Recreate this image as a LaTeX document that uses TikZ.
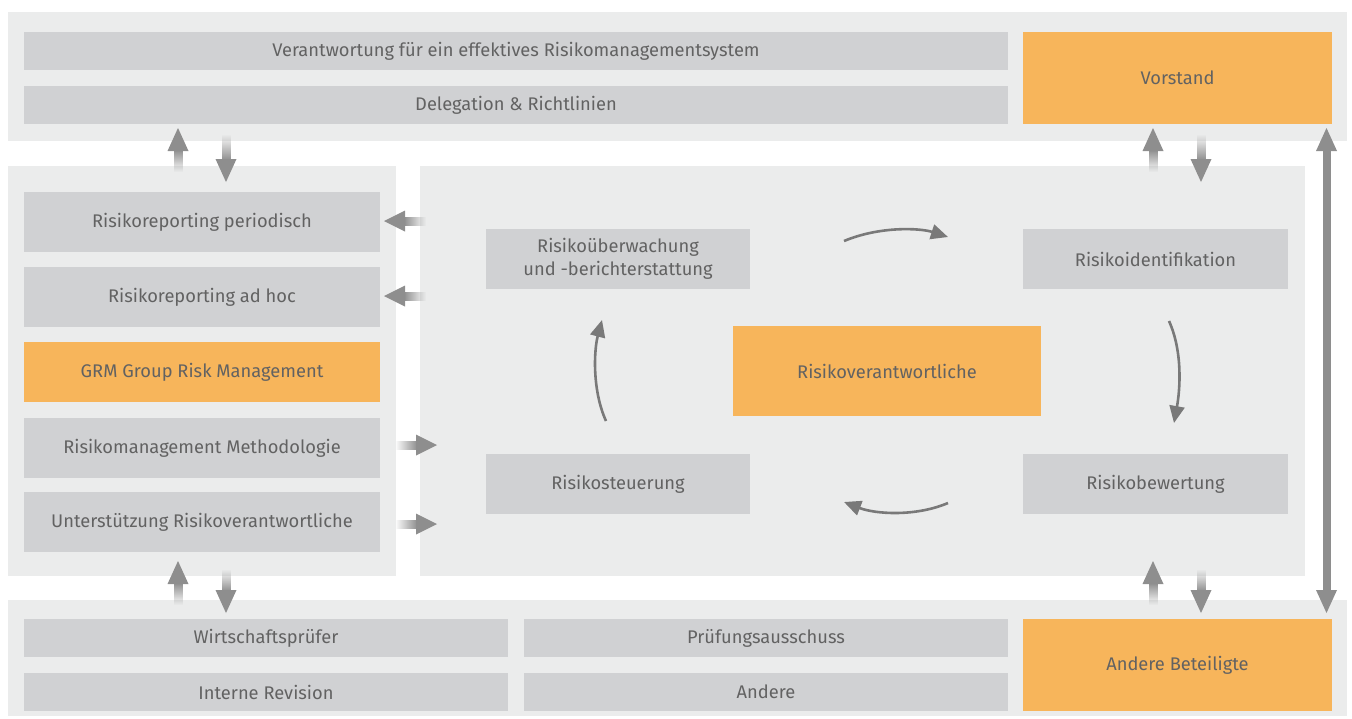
\documentclass[tikz,border=0pt]{standalone}
\usepackage{fontspec}
\setmainfont{Fira Sans}
\usetikzlibrary{arrows.meta,fadings}
\definecolor{panel}{HTML}{EBECEC}
\definecolor{kasten}{HTML}{D0D1D3}
\definecolor{orange}{HTML}{F7B55B}
\definecolor{pfeil}{HTML}{8E8E8E}
\definecolor{schrift}{HTML}{626262}
\tikzfading[name=fadeup,top color=transparent!0,bottom color=transparent!100]
\tikzfading[name=fadedown,top color=transparent!100,bottom color=transparent!0]
\tikzfading[name=fadeleft,left color=transparent!0,right color=transparent!100]
\tikzfading[name=faderight,left color=transparent!100,right color=transparent!0]
% block arrows with a fading tail: x, tip, tail
\newcommand\pfeilauf[3]{\fill[pfeil,path fading=fadeup](#1-4.5,#2+22)rectangle(#1+4.5,#3);
  \fill[pfeil](#1,#2)--(#1+10.5,#2+23)--(#1-10.5,#2+23)--cycle;}
\newcommand\pfeilab[3]{\fill[pfeil,path fading=fadedown](#1-4.5,#2-22)rectangle(#1+4.5,#3);
  \fill[pfeil](#1,#2)--(#1+10.5,#2-23)--(#1-10.5,#2-23)--cycle;}
\newcommand\pfeillinks[3]{\fill[pfeil,path fading=fadeleft](#2+20,#1-4.5)rectangle(#3,#1+4.5);
  \fill[pfeil](#2,#1)--(#2+21,#1-10.5)--(#2+21,#1+10.5)--cycle;}
\newcommand\pfeilrechts[3]{\fill[pfeil,path fading=faderight](#2-20,#1-4.5)rectangle(#3,#1+4.5);
  \fill[pfeil](#2,#1)--(#2-21,#1-10.5)--(#2-21,#1+10.5)--cycle;}
\begin{document}
\begin{tikzpicture}[x=1pt,y=-1pt,font=\fontsize{18.3}{22.5}\selectfont,
    box/.style={fill=kasten,text=schrift,inner sep=0pt,outer sep=0pt,align=center},
    obox/.style={box,fill=orange},
    kreis/.style={draw=pfeil!85!black,line width=2.6pt,-{Triangle[length=17pt,width=15pt]}}]
  \useasboundingbox(0,0)rectangle(1352,718);
  % panels
  \fill[panel](8,12)rectangle(1347,141);
  \fill[panel](8,166)rectangle(396,576);
  \fill[panel](420,166)rectangle(1305,576);
  \fill[panel](8,600)rectangle(1347,716);
  % top
  \node[box,minimum width=984,minimum height=38](verant)at(516,51){Verantwortung für ein effektives Risikomanagementsystem};
  \node[box,minimum width=984,minimum height=38](deleg)at(516,105){Delegation \& Richtlinien};
  \node[obox,minimum width=309,minimum height=92](vorstand)at(1177.5,78){Vorstand};
  % left
  \node[box,minimum width=356,minimum height=60](periodisch)at(202,222){Risikoreporting periodisch};
  \node[box,minimum width=356,minimum height=60](adhoc)at(202,297){Risikoreporting ad hoc};
  \node[obox,minimum width=356,minimum height=60](grm)at(202,372){GRM Group Risk Management};
  \node[box,minimum width=356,minimum height=60](method)at(202,448){Risikomanagement Methodologie};
  \node[box,minimum width=356,minimum height=60](unterst)at(202,522){Unterstützung Risikoverantwortliche};
  % cycle
  \node[box,minimum width=264,minimum height=60](ueberw)at(618,259){Risikoüberwachung\\und -berichterstattung};
  \node[box,minimum width=265,minimum height=60](ident)at(1155.5,259){Risikoidentifikation};
  \node[obox,minimum width=308,minimum height=90](verantw)at(887,371){Risikoverantwortliche};
  \node[box,minimum width=264,minimum height=60](steuer)at(618,484){Risikosteuerung};
  \node[box,minimum width=265,minimum height=60](bewert)at(1155.5,484){Risikobewertung};
  % bottom
  \node[box,minimum width=484,minimum height=38](wp)at(266,638){Wirtschaftsprüfer};
  \node[box,minimum width=484,minimum height=38](revision)at(266,692){Interne Revision};
  \node[box,minimum width=484,minimum height=38](ausschuss)at(766,638){Prüfungsausschuss};
  \node[box,minimum width=484,minimum height=38](andere)at(766,692){Andere};
  \node[obox,minimum width=309,minimum height=92](beteiligte)at(1177.5,665){Andere Beteiligte};
  % cycle arrows
  \coordinate(o1)at(844,241);\coordinate(o2)at(948,237);
  \coordinate(r1)at(1169,321);\coordinate(r2)at(1174,423);
  \coordinate(u1)at(948,503);\coordinate(u2)at(844,502);
  \coordinate(l1)at(606,421);\coordinate(l2)at(602,320);
  \draw[kreis](o1)..controls(880,226)and(920,228)..(o2);
  \draw[kreis](r1)..controls(1183,352)and(1180,390)..(r2);
  \draw[kreis](u1)..controls(915,517)and(875,514)..(u2);
  \draw[kreis](l1)..controls(592,390)and(594,350)..(l2);
  % block arrows
  \foreach \x in {178,1153}{\pfeilauf{\x}{128}{172}\pfeilauf{\x}{561}{605}}
  \foreach \x in {226,1201}{\pfeilab{\x}{182}{134}\pfeilab{\x}{613}{569}}
  \foreach \y in {221,296}{\pfeillinks{\y}{384}{426}}
  \foreach \y in {445,524}{\pfeilrechts{\y}{437}{395}}
  \fill[pfeil](1322.5,150)rectangle(1330.5,592);
  \fill[pfeil](1326.5,128)--(1337,151)--(1316,151)--cycle;
  \fill[pfeil](1326.5,613)--(1337,590)--(1316,590)--cycle;
\end{tikzpicture}
\end{document}
